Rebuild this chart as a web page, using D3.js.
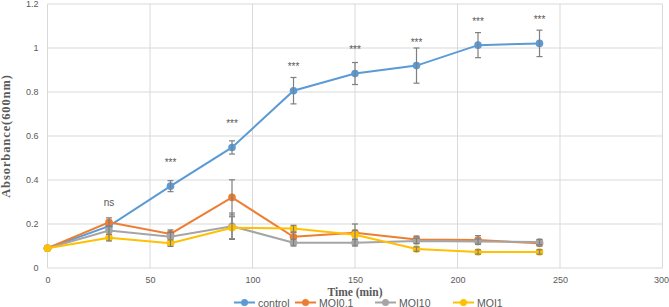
<!DOCTYPE html>
<html>
<head>
<meta charset="utf-8">
<script src="https://cdn.jsdelivr.net/npm/d3@7"></script>
<style>
  body { margin: 0; background: #fff; }
  svg { display: block; }
</style>
</head>
<body>
<svg></svg>
<script>
const times = [0, 30, 60, 90, 120, 150, 180, 210, 240];

const seriesNames = ["control", "MOI0.1", "MOI10", "MOI1"];
const control    = [0.09, 0.19, 0.372, 0.548, 0.806, 0.884, 0.92, 1.013, 1.021];
const controlErr = [0, 0.02, 0.025, 0.03, 0.06, 0.05, 0.08, 0.057, 0.06];
const moi01      = [0.09, 0.208, 0.155, 0.321, 0.142, 0.16, 0.13, 0.127, 0.112];
const moi01Err   = [0, 0.02, 0.018, 0.08, 0.02, 0.04, 0.015, 0.02, 0.012];
const moi10      = [0.09, 0.17, 0.142, 0.19, 0.115, 0.115, 0.123, 0.12, 0.118];
const moi10Err   = [0, 0.02, 0.02, 0.06, 0.015, 0.015, 0.012, 0.012, 0.012];
const moi1       = [0.09, 0.138, 0.113, 0.183, 0.179, 0.151, 0.086, 0.073, 0.073];
const moi1Err    = [0, 0.015, 0.015, 0.05, 0.015, 0.02, 0.01, 0.01, 0.01];

// significance labels over the control curve
const sigTimes  = [30, 60, 90, 120, 150, 180, 210, 240];
const sigLabels = ["ns", "***", "***", "***", "***", "***", "***", "***"];
const sigY      = [0.3, 0.49, 0.668, 0.927, 1.005, 1.036, 1.13, 1.14];

const xTicks = [0, 50, 100, 150, 200, 250, 300];
const yTicks = [0, 0.2, 0.4, 0.6, 0.8, 1, 1.2];

const colors = ["#5b9bd5", "#ed7d31", "#a5a5a5", "#ffc000"];
const values = [control, moi01, moi10, moi1];
const errors = [controlErr, moi01Err, moi10Err, moi1Err];

const width = 669, height = 307;
const margin = {left: 47.5, right: 6.5, top: 4, bottom: 39};

const svg = d3.select("svg").attr("width", width).attr("height", height);

const x = d3.scaleLinear().domain([0, 300]).range([margin.left, width - margin.right]);
const y = d3.scaleLinear().domain([0, 1.2]).range([height - margin.bottom, margin.top]);

// gridlines
svg.append("g").selectAll("line").data(yTicks).join("line")
  .attr("x1", x(0)).attr("x2", x(300))
  .attr("y1", d => y(d)).attr("y2", d => y(d))
  .attr("stroke", "#d9d9d9").attr("stroke-width", 1);

svg.append("g").selectAll("line").data(xTicks).join("line")
  .attr("x1", d => x(d)).attr("x2", d => x(d))
  .attr("y1", y(0)).attr("y2", y(1.2))
  .attr("stroke", "#d9d9d9").attr("stroke-width", 1);

// axes (labels only)
const xAxis = svg.append("g")
  .attr("transform", `translate(0,${y(0)})`)
  .call(d3.axisBottom(x).tickValues(xTicks).tickSize(0).tickPadding(9).tickFormat(d3.format("d")));
const yAxis = svg.append("g")
  .attr("transform", `translate(${x(0)},0)`)
  .call(d3.axisLeft(y).tickValues(yTicks).tickSize(0).tickPadding(9).tickFormat(d => String(+d.toFixed(1))));
[xAxis, yAxis].forEach(a => {
  a.select(".domain").remove();
  a.selectAll("text").attr("fill", "#595959").style("font-family", "Liberation Sans, Arial, sans-serif").style("font-size", "9px");
});
xAxis.selectAll("text").filter(d => d === 300).attr("dx", -1.5);

// axis titles
svg.append("text")
  .attr("x", (x(0) + x(300)) / 2).attr("y", 296)
  .attr("text-anchor", "middle")
  .style("font-family", "Liberation Serif, Times New Roman, serif")
  .style("font-weight", "bold").style("font-size", "11.5px")
  .attr("fill", "#595959")
  .text("Time (min)");

svg.append("text")
  .attr("transform", `translate(10,${(y(0) + y(1.2)) / 2}) rotate(-90)`)
  .attr("text-anchor", "middle")
  .style("font-family", "Liberation Serif, Times New Roman, serif")
  .style("font-weight", "bold").style("font-size", "12.5px")
  .style("letter-spacing", "0.9px")
  .attr("fill", "#595959")
  .text("Absorbance(600nm)");

const line = d3.line().x((d, i) => x(times[i])).y(d => y(d));

// lines, markers, error bars per series (draw in order)
values.forEach((vals, s) => {
  const g = svg.append("g");
  g.append("path").datum(vals)
    .attr("d", line).attr("fill", "none")
    .attr("stroke", colors[s]).attr("stroke-width", 2);

  g.selectAll("circle").data(vals).join("circle")
    .attr("cx", (d, i) => x(times[i])).attr("cy", d => y(d))
    .attr("r", 3.8).attr("fill", colors[s]);

  const eb = g.append("g").attr("stroke", "#7f7f7f").attr("stroke-width", 1.2);
  vals.forEach((v, i) => {
    const e = errors[s][i];
    if (!e) return;
    const cx = x(times[i]);
    eb.append("line").attr("x1", cx).attr("x2", cx).attr("y1", y(v - e)).attr("y2", y(v + e));
    eb.append("line").attr("x1", cx - 3).attr("x2", cx + 3).attr("y1", y(v - e)).attr("y2", y(v - e));
    eb.append("line").attr("x1", cx - 3).attr("x2", cx + 3).attr("y1", y(v + e)).attr("y2", y(v + e));
  });
});

// significance labels
svg.append("g").selectAll("text").data(sigLabels).join("text")
  .attr("x", (d, i) => x(sigTimes[i]))
  .attr("y", (d, i) => y(sigY[i]) + (d === "ns" ? 4 : 6))
  .attr("text-anchor", "middle")
  .attr("fill", "#595959")
  .style("font-family", "Liberation Sans, Arial, sans-serif")
  .style("font-size", "10px")
  .text(d => d);

// legend
const legendX = [234, 295, 375, 453];
const legend = svg.append("g");
seriesNames.forEach((name, s) => {
  const lx = legendX[s], ly = 302.5;
  legend.append("line").attr("x1", lx).attr("x2", lx + 21).attr("y1", ly).attr("y2", ly)
    .attr("stroke", colors[s]).attr("stroke-width", 2);
  legend.append("circle").attr("cx", lx + 10.5).attr("cy", ly).attr("r", 3.5).attr("fill", colors[s]);
  legend.append("text").attr("x", lx + 24).attr("y", ly + 4)
    .attr("fill", "#595959")
    .style("font-family", "Liberation Sans, Arial, sans-serif")
    .style("font-size", "10.5px")
    .text(name);
});
</script>
</body>
</html>
